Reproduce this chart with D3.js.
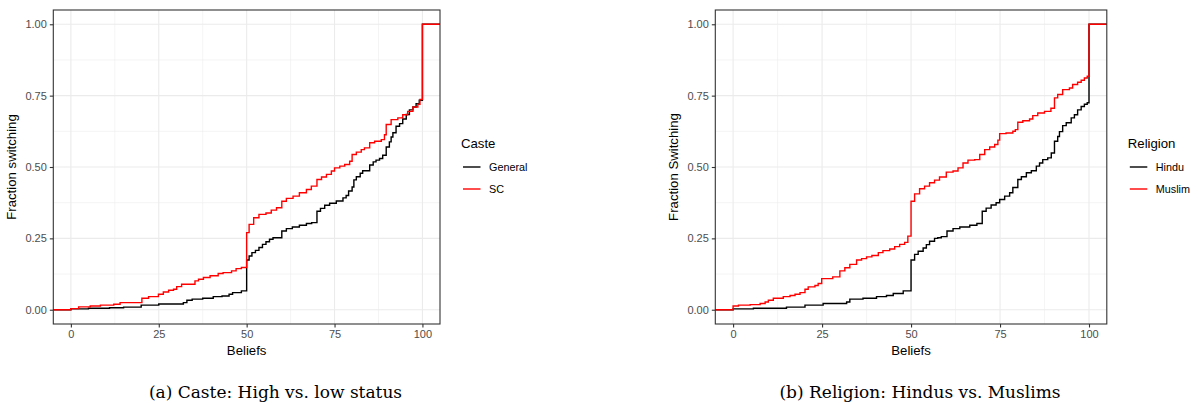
<!DOCTYPE html>
<html>
<head>
<meta charset="utf-8">
<script src="https://cdn.jsdelivr.net/npm/d3@7"></script>
<style>
  body { margin: 0; background: #fff; }
  .tick text { font-family: "Liberation Sans", Arial, sans-serif; font-size: 11px; fill: #4d4d4d; }
  .axis-title, .legend-title { font-family: "Liberation Sans", Arial, sans-serif; font-size: 13.2px; fill: #000; }
  .legend-label { font-family: "Liberation Sans", Arial, sans-serif; font-size: 10.8px; fill: #000; }
  .caption { font-family: "DejaVu Serif", serif; font-size: 17px; fill: #000; }
</style>
</head>
<body>
<div class="ecdf-chart"></div>
<script>
// tick values
var beliefTicks = [0, 25, 50, 75, 100];
var fracTicks = [0, 0.25, 0.5, 0.75, 1];
var fracLabels = ["0.00", "0.25", "0.50", "0.75", "1.00"];

// ecdf steps: [belief, fraction switching]
var general = [[0,0.003],[5,0.005],[11,0.007],[15,0.009],[20,0.016],[25,0.02],[32,0.025],[33,0.033],[34.5,0.037],[37.5,0.04],[40.5,0.046],[43,0.048],[45,0.054],[46,0.06],[48.5,0.066],[50,0.174],[50.7,0.188],[51.5,0.2],[52.5,0.208],[53.5,0.218],[54.5,0.229],[55.5,0.238],[56.5,0.247],[57.5,0.252],[60,0.276],[61.3,0.284],[63,0.29],[65,0.296],[67,0.302],[68.5,0.305],[70,0.345],[71,0.355],[72.2,0.366],[73.6,0.373],[75.5,0.381],[77.4,0.392],[78.3,0.4],[79,0.416],[80,0.43],[80.5,0.455],[81.2,0.466],[82.3,0.478],[83,0.487],[85,0.507],[86,0.518],[86.8,0.524],[87.8,0.53],[88.7,0.541],[89.7,0.57],[90.6,0.588],[91.1,0.605],[91.6,0.62],[92.5,0.643],[93.5,0.652],[94.4,0.668],[95.4,0.684],[96.3,0.7],[97.3,0.71],[98.2,0.722],[99.1,0.734],[100,1]];
var sc = [[0,0.004],[2.2,0.01],[5.5,0.013],[8.4,0.016],[12.2,0.019],[14,0.025],[20.2,0.04],[22.1,0.046],[24.9,0.054],[26.3,0.062],[27.8,0.068],[29.2,0.072],[30.1,0.081],[31.5,0.089],[35.3,0.101],[36.3,0.107],[37.7,0.113],[39.6,0.119],[41.9,0.127],[43.3,0.13],[45.7,0.136],[47,0.144],[48.5,0.148],[50,0.27],[50.7,0.299],[52,0.322],[53.5,0.334],[55.5,0.339],[57,0.349],[58.5,0.357],[60,0.38],[61.3,0.39],[63.2,0.398],[65,0.41],[67,0.421],[68.4,0.433],[70,0.456],[71.3,0.465],[72.7,0.474],[74.1,0.486],[75,0.497],[76.5,0.503],[77.9,0.509],[79.3,0.52],[80,0.544],[81.2,0.552],[82.6,0.561],[83.5,0.567],[85,0.585],[86.4,0.59],[88.3,0.596],[89.2,0.613],[89.7,0.649],[91.1,0.666],[93,0.672],[94.4,0.683],[95.8,0.695],[97.3,0.71],[98.7,0.72],[99.3,0.737],[100,1]];
var hindu = [[0,0.003],[5.7,0.005],[15,0.009],[20.2,0.016],[25.3,0.022],[31.9,0.027],[32.8,0.037],[36.5,0.04],[40.3,0.046],[43.1,0.05],[45,0.057],[47.8,0.066],[50,0.174],[51,0.194],[52,0.205],[53.4,0.216],[54.3,0.228],[55.2,0.24],[56.6,0.25],[57.5,0.252],[58.5,0.256],[60.1,0.276],[61.8,0.284],[63.7,0.29],[66.5,0.296],[68.5,0.302],[70,0.345],[71.1,0.356],[72.5,0.367],[73.9,0.375],[74.9,0.386],[76.3,0.398],[77.7,0.41],[78.6,0.428],[80,0.456],[81,0.466],[82.4,0.48],[83.8,0.487],[85.2,0.503],[86.1,0.514],[87,0.526],[88.4,0.532],[89.4,0.549],[90.3,0.59],[91.2,0.607],[91.7,0.624],[92.6,0.645],[93.6,0.655],[95,0.672],[95.9,0.683],[96.8,0.7],[97.8,0.712],[98.7,0.72],[99.5,0.725],[100,1]];
var muslim = [[0,0.013],[1.5,0.016],[4.8,0.018],[7.6,0.022],[9,0.027],[9.9,0.033],[11.3,0.04],[14.1,0.046],[16,0.05],[17.4,0.054],[18.8,0.06],[20.2,0.072],[21.1,0.08],[23,0.085],[23.9,0.092],[24.9,0.109],[28,0.115],[30,0.136],[31.4,0.147],[32.8,0.159],[34.7,0.174],[36.1,0.179],[37.5,0.185],[39,0.19],[40.8,0.2],[42.1,0.207],[44,0.213],[45.4,0.221],[46.8,0.229],[48.2,0.236],[49.1,0.258],[50,0.38],[51,0.406],[52.4,0.424],[53.8,0.433],[55.2,0.445],[56.6,0.454],[58,0.465],[59.9,0.482],[61.8,0.486],[63.2,0.497],[64.6,0.514],[66,0.524],[67.9,0.526],[69.3,0.544],[70.7,0.561],[72.1,0.57],[73.5,0.579],[74.4,0.594],[74.9,0.617],[76.7,0.619],[78.6,0.625],[79.3,0.631],[80,0.657],[81.4,0.662],[83.3,0.668],[84.2,0.68],[85.6,0.689],[87.5,0.695],[89.3,0.706],[90.3,0.742],[91.2,0.754],[92.6,0.771],[94.5,0.777],[95.4,0.789],[96.8,0.797],[97.8,0.804],[98.7,0.812],[99.5,0.818],[100,1]];

var casteNames = ["General", "SC"];
var religionNames = ["Hindu", "Muslim"];
var colors = ["#000000", "#ff0000"];

var svg = d3.select(".ecdf-chart").append("svg")
    .attr("width", 1198)
    .attr("height", 403);

function drawPanel(opts) {
    var width = opts.width, height = 314;
    var g = svg.append("g")
        .attr("transform", `translate(${opts.left}, 10)`);

    // scales, with ggplot's 5% padding
    var x = d3.scaleLinear().domain([-5, 105]).range([0, width]);
    var y = d3.scaleLinear().domain([-0.05, 1.05]).range([height, 0]);

    // minor and major grid
    var minorX = d3.pairs(beliefTicks).map(function(p) { return (p[0] + p[1]) / 2; });
    var minorY = d3.pairs(fracTicks).map(function(p) { return (p[0] + p[1]) / 2; });
    g.selectAll(".minor-x").data(minorX).enter().append("line")
        .attr("x1", x).attr("x2", x).attr("y1", 0).attr("y2", height)
        .style("stroke", "#ebebeb").style("stroke-width", 0.55);
    g.selectAll(".minor-y").data(minorY).enter().append("line")
        .attr("y1", y).attr("y2", y).attr("x1", 0).attr("x2", width)
        .style("stroke", "#ebebeb").style("stroke-width", 0.55);
    g.selectAll(".major-x").data(beliefTicks).enter().append("line")
        .attr("x1", x).attr("x2", x).attr("y1", 0).attr("y2", height)
        .style("stroke", "#ebebeb").style("stroke-width", 1.1);
    g.selectAll(".major-y").data(fracTicks).enter().append("line")
        .attr("y1", y).attr("y2", y).attr("x1", 0).attr("x2", width)
        .style("stroke", "#ebebeb").style("stroke-width", 1.1);

    // ecdf lines, padded out to the panel edges
    var line = d3.line()
        .curve(d3.curveStepAfter)
        .x(function(d) { return x(d[0]); })
        .y(function(d) { return y(d[1]); });
    opts.series.forEach(function(s, i) {
        var pts = [[-5, 0]].concat(s, [[105, 1]]);
        g.append("path")
            .datum(pts)
            .attr("d", line)
            .style("fill", "none")
            .style("stroke", colors[i])
            .style("stroke-width", 1.4);
    });

    // border
    g.append("rect")
        .attr("width", width).attr("height", height)
        .style("fill", "none").style("stroke", "#333333").style("stroke-width", 1.1);

    // axes
    var xAxis = g.append("g")
        .attr("transform", `translate(0, ${height})`)
        .call(d3.axisBottom(x).tickValues(beliefTicks).tickSize(3.5).tickPadding(3));
    var yAxis = g.append("g")
        .call(d3.axisLeft(y).tickValues(fracTicks).tickFormat(function(d, i) { return fracLabels[i]; })
            .tickSize(3.5).tickPadding(3));
    [xAxis, yAxis].forEach(function(a) {
        a.select(".domain").remove();
        a.selectAll(".tick line").style("stroke", "#333333").style("stroke-width", 1.1);
    });

    g.append("text")
        .attr("class", "axis-title")
        .attr("x", width / 2)
        .attr("y", height + 31)
        .style("text-anchor", "middle")
        .text("Beliefs");
    g.append("text")
        .attr("class", "axis-title")
        .attr("transform", `translate(${opts.ytitleX}, ${height / 2}) rotate(-90)`)
        .style("text-anchor", "middle")
        .text(opts.ytitle);

    // legend
    var lg = svg.append("g")
        .attr("transform", `translate(${opts.left + width + 21}, 148)`);
    lg.append("text").attr("class", "legend-title").attr("x", 0).attr("y", 0).text(opts.legendTitle);
    opts.names.forEach(function(n, i) {
        lg.append("line")
            .attr("x1", 2).attr("x2", 19.5)
            .attr("y1", 19 + i * 22).attr("y2", 19 + i * 22)
            .style("stroke", colors[i]).style("stroke-width", 1.4);
        lg.append("text").attr("class", "legend-label")
            .attr("x", 28).attr("y", 22.7 + i * 22)
            .text(n);
    });

    // caption
    svg.append("text")
        .attr("class", "caption")
        .attr("x", opts.captionX)
        .attr("y", 398)
        .style("text-anchor", "middle")
        .text(opts.caption);
}

drawPanel({
    left: 53.3, width: 386.7, ytitle: "Fraction switching", ytitleX: -37,
    legendTitle: "Caste", names: casteNames, series: [general, sc],
    caption: "(a) Caste: High vs. low status", captionX: 275.5
});
drawPanel({
    left: 715.3, width: 391.5, ytitle: "Fraction Switching", ytitleX: -37.5,
    legendTitle: "Religion", names: religionNames, series: [hindu, muslim],
    caption: "(b) Religion: Hindus vs. Muslims", captionX: 920
});
</script>
</body>
</html>
